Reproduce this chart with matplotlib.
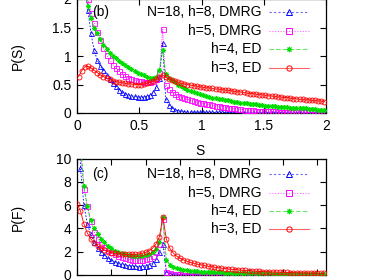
import matplotlib
matplotlib.use('Agg')
import matplotlib.pyplot as plt
import numpy as np

plt.rcParams['font.family'] = ['Liberation Sans', 'DejaVu Sans']
plt.rcParams['font.size'] = 10

# --- panel (b): P(S), bins of 0.025 ---
S = np.arange(80) * 0.025 + 0.0125

ps_h8 = [6.0, 3.5, 2.4, 1.80, 1.40, 1.10, 0.93, 0.82, 0.75, 0.67, 0.59, 0.53, 0.47, 0.41,
         0.37, 0.34, 0.32, 0.30, 0.29, 0.28, 0.28, 0.28, 0.29, 0.31, 0.36, 0.45, 0.62, 1.23,
         0.25, 0.14, 0.09, 0.06, 0.04, 0.03, 0.025, 0.02, 0.018, 0.016, 0.015, 0.014,
         0.013, 0.012, 0.011, 0.010, 0.010, 0.009, 0.009, 0.008, 0.008, 0.008,
         0.007, 0.007, 0.007, 0.006, 0.006, 0.006, 0.006, 0.005, 0.005, 0.005,
         0.005, 0.005, 0.004, 0.004, 0.004, 0.004, 0.004, 0.004, 0.003, 0.003,
         0.003, 0.003, 0.003, 0.003, 0.003, 0.002, 0.002, 0.002, 0.002, 0.002]
ps_h5 = [4.0, 3.0, 2.3, 2.0, 1.75, 1.58, 1.42, 1.28, 1.14, 1.02, 0.93, 0.85, 0.79, 0.74,
         0.69, 0.65, 0.62, 0.60, 0.58, 0.57, 0.56, 0.55, 0.55, 0.55, 0.56, 0.60, 0.70, 1.47,
         0.50, 0.42, 0.37, 0.33, 0.30, 0.28, 0.26, 0.24, 0.22, 0.21, 0.19, 0.18,
         0.17, 0.16, 0.15, 0.14, 0.13, 0.12, 0.11, 0.10, 0.09, 0.09,
         0.08, 0.07, 0.07, 0.06, 0.06, 0.05, 0.05, 0.04, 0.04, 0.04,
         0.03, 0.03, 0.03, 0.03, 0.02, 0.02, 0.02, 0.02, 0.02, 0.015,
         0.015, 0.015, 0.012, 0.012, 0.01, 0.01, 0.01, 0.008, 0.008, 0.008]
ps_h4 = [3.5, 2.6, 2.2, 1.88, 1.66, 1.50, 1.40, 1.30, 1.20, 1.13, 1.06, 1.00, 0.96, 0.92,
         0.88, 0.84, 0.80, 0.77, 0.74, 0.71, 0.68, 0.66, 0.64, 0.62, 0.62, 0.64, 0.76, 1.10,
         0.68, 0.62, 0.58, 0.54, 0.50, 0.47, 0.44, 0.41, 0.39, 0.37, 0.35, 0.33,
         0.31, 0.30, 0.28, 0.27, 0.26, 0.25, 0.24, 0.23, 0.22, 0.21,
         0.20, 0.19, 0.18, 0.17, 0.17, 0.16, 0.15, 0.15, 0.14, 0.14,
         0.13, 0.13, 0.12, 0.12, 0.11, 0.11, 0.10, 0.10, 0.09, 0.09,
         0.09, 0.08, 0.08, 0.08, 0.07, 0.07, 0.07, 0.06, 0.06, 0.06]
ps_h3 = [0.64, 0.74, 0.81, 0.82, 0.79, 0.75, 0.71, 0.67, 0.64, 0.61, 0.59, 0.57, 0.55, 0.54,
         0.53, 0.52, 0.51, 0.51, 0.50, 0.50, 0.50, 0.51, 0.52, 0.54, 0.56, 0.59, 0.63, 0.67,
         0.63, 0.60, 0.58, 0.56, 0.54, 0.52, 0.51, 0.50, 0.49, 0.48, 0.47, 0.46,
         0.45, 0.44, 0.44, 0.43, 0.42, 0.42, 0.41, 0.40, 0.40, 0.39,
         0.38, 0.37, 0.37, 0.36, 0.35, 0.34, 0.34, 0.33, 0.32, 0.32,
         0.31, 0.30, 0.30, 0.29, 0.28, 0.28, 0.27, 0.27, 0.26, 0.25,
         0.25, 0.24, 0.24, 0.23, 0.23, 0.22, 0.22, 0.21, 0.21, 0.20]

# --- panel (c): P(F), bins of 0.01 ---
F = np.arange(73) * 0.01

pf_h8 = [25.0, 9.2, 6.0, 4.4, 3.5, 2.86, 2.35, 2.0, 1.7, 1.45, 1.27, 1.12, 1.0, 0.92,
         0.85, 0.80, 0.76, 0.73, 0.72, 0.74, 0.80, 0.90, 1.05, 1.35, 2.0, 2.7,
         0.25, 0.12, 0.07, 0.04, 0.03, 0.02, 0.015, 0.01, 0.01, 0.008, 0.006, 0.005,
         0.004, 0.004, 0.003, 0.003, 0.002, 0.002, 0.002, 0.002, 0.001, 0.001,
         0.001, 0.001, 0.001, 0.001, 0.001, 0.001, 0.001, 0.001, 0.001, 0.001,
         0.001, 0.001, 0.001, 0.001, 0.001, 0.001, 0.001, 0.001, 0.001, 0.001,
         0.001, 0.001, 0.001, 0.001, 0.001]
pf_h5 = [20.0, 10.5, 7.4, 5.9, 4.6, 3.7, 3.1, 2.7, 2.4, 2.15, 1.95, 1.8, 1.65, 1.52,
         1.43, 1.36, 1.31, 1.29, 1.29, 1.32, 1.38, 1.48, 1.65, 1.95, 2.7, 4.8,
         0.30, 0.15, 0.10, 0.07, 0.05, 0.04, 0.03, 0.025, 0.02, 0.016, 0.013, 0.011,
         0.009, 0.008, 0.007, 0.006, 0.005, 0.005, 0.004, 0.004, 0.003, 0.003,
         0.003, 0.003, 0.002, 0.002, 0.002, 0.002, 0.002, 0.002, 0.002, 0.001,
         0.001, 0.001, 0.001, 0.001, 0.001, 0.001, 0.001, 0.001, 0.001, 0.001,
         0.001, 0.001, 0.001, 0.001, 0.001]
pf_h4 = [16.0, 11.5, 7.6, 5.9, 4.7, 4.0, 3.5, 3.1, 2.8, 2.5, 2.3, 2.1, 1.95, 1.85,
         1.76, 1.68, 1.63, 1.60, 1.60, 1.62, 1.68, 1.78, 1.95, 2.2, 2.8, 5.0,
         1.3, 0.9, 0.71, 0.60, 0.52, 0.46, 0.42, 0.38, 0.35, 0.32, 0.30, 0.28,
         0.27, 0.25, 0.24, 0.23, 0.22, 0.21, 0.20, 0.20, 0.19, 0.18,
         0.17, 0.17, 0.16, 0.16, 0.15, 0.14, 0.14, 0.13, 0.13, 0.12,
         0.12, 0.11, 0.11, 0.10, 0.10, 0.10, 0.09, 0.09, 0.08, 0.08,
         0.08, 0.07, 0.07, 0.06, 0.06]
pf_h3 = [6.1, 5.5, 4.4, 3.6, 3.1, 2.75, 2.5, 2.3, 2.15, 2.0, 1.92, 1.86, 1.82, 1.79,
         1.77, 1.76, 1.76, 1.78, 1.81, 1.86, 1.95, 2.08, 2.3, 2.65, 3.3, 5.0,
         3.1, 2.3, 1.9, 1.62, 1.43, 1.3, 1.18, 1.08, 1.0, 0.93, 0.87, 0.82,
         0.76, 0.71, 0.67, 0.63, 0.59, 0.55, 0.52, 0.49, 0.46, 0.44,
         0.41, 0.39, 0.37, 0.35, 0.33, 0.31, 0.30, 0.28, 0.27, 0.26,
         0.25, 0.24, 0.23, 0.22, 0.21, 0.20, 0.19, 0.18, 0.18, 0.17,
         0.16, 0.16, 0.15, 0.14, 0.14]

labels = ['N=18, h=8, DMRG', 'h=5, DMRG', 'h=4, ED', 'h=3, ED']
colors = ['#0000ff', '#ff00ff', '#00dd00', '#ff0000']
markers = ['^', 's', (8, 2, 0), 'o']
dashes = [(2, 2), (1, 1.5), (4, 2), ()]


def styled(ax):
    ax.tick_params(direction='in', top=True, right=True, length=4, width=0.8, pad=4)
    for sp in ax.spines.values():
        sp.set_linewidth(0.9)


def draw(ax, x, series):
    for i, y in enumerate(series):
        ls = '-' if not dashes[i] else (0, dashes[i])
        ax.plot(x, y, color=colors[i], lw=0.6, linestyle=ls, marker=markers[i],
                ms=3.6, mfc='none', mew=0.6, zorder=2 + i)


def key(ax, rows):
    # gnuplot-style key: text right aligned, sample to its right
    for i, yy in enumerate(rows):
        ax.text(0.739, yy, labels[i], transform=ax.transAxes, ha='right', va='center')
        ls = '-' if not dashes[i] else (0, dashes[i])
        ax.plot([0.771, 0.932], [yy, yy], transform=ax.transAxes, color=colors[i],
                lw=0.8, linestyle=ls, alpha=0.6, clip_on=False)
        ax.plot([0.851], [yy], transform=ax.transAxes, color=colors[i], marker=markers[i],
                ms=3.8, mfc='none', mew=0.7, clip_on=False)


fig = plt.figure(figsize=(3.74, 2.80), dpi=100)
ax1 = fig.add_axes([77 / 374, 1 - 113 / 280, 249 / 374, 114 / 280])
ax2 = fig.add_axes([77 / 374, 1 - 275 / 280, 249 / 374, 116.5 / 280])

draw(ax1, S, [ps_h8, ps_h5, ps_h4, ps_h3])
ax1.set_xlim(0, 2)
ax1.set_ylim(0, 2)
ax1.set_xticks([0, 0.5, 1, 1.5, 2])
ax1.set_xticklabels(['0', '0.5', '1', '1.5', '2'])
ax1.set_yticks([0, 0.5, 1, 1.5, 2])
ax1.set_yticklabels(['0', '0.5', '1', '1.5', '2'])
ax1.set_xlabel('S')
ax1.xaxis.set_label_coords(0.494, -0.33)
ax1.xaxis.label.set_va('center')
ax1.set_ylabel('P(S)')
ax1.yaxis.set_label_coords(-0.237, 0.5)
ax1.yaxis.label.set_va('center')
ax1.text(0.06, 0.885, '(b)', transform=ax1.transAxes, ha='left', va='center')
styled(ax1)
key(ax1, [0.882, 0.719, 0.558, 0.396])

draw(ax2, F, [pf_h8, pf_h5, pf_h4, pf_h3])
ax2.set_xlim(0, 0.725)
ax2.set_ylim(0, 10)
ax2.set_xticks(np.arange(8) * 0.1)
ax2.set_xticklabels([])
ax2.set_yticks([0, 2, 4, 6, 8, 10])
ax2.set_ylabel('P(F)')
ax2.yaxis.set_label_coords(-0.237, 0.49)
ax2.yaxis.label.set_va('center')
ax2.text(0.06, 0.867, '(c)', transform=ax2.transAxes, ha='left', va='center')
styled(ax2)
key(ax2, [0.867, 0.706, 0.549, 0.392])

fig.savefig('out.png', dpi=100)
